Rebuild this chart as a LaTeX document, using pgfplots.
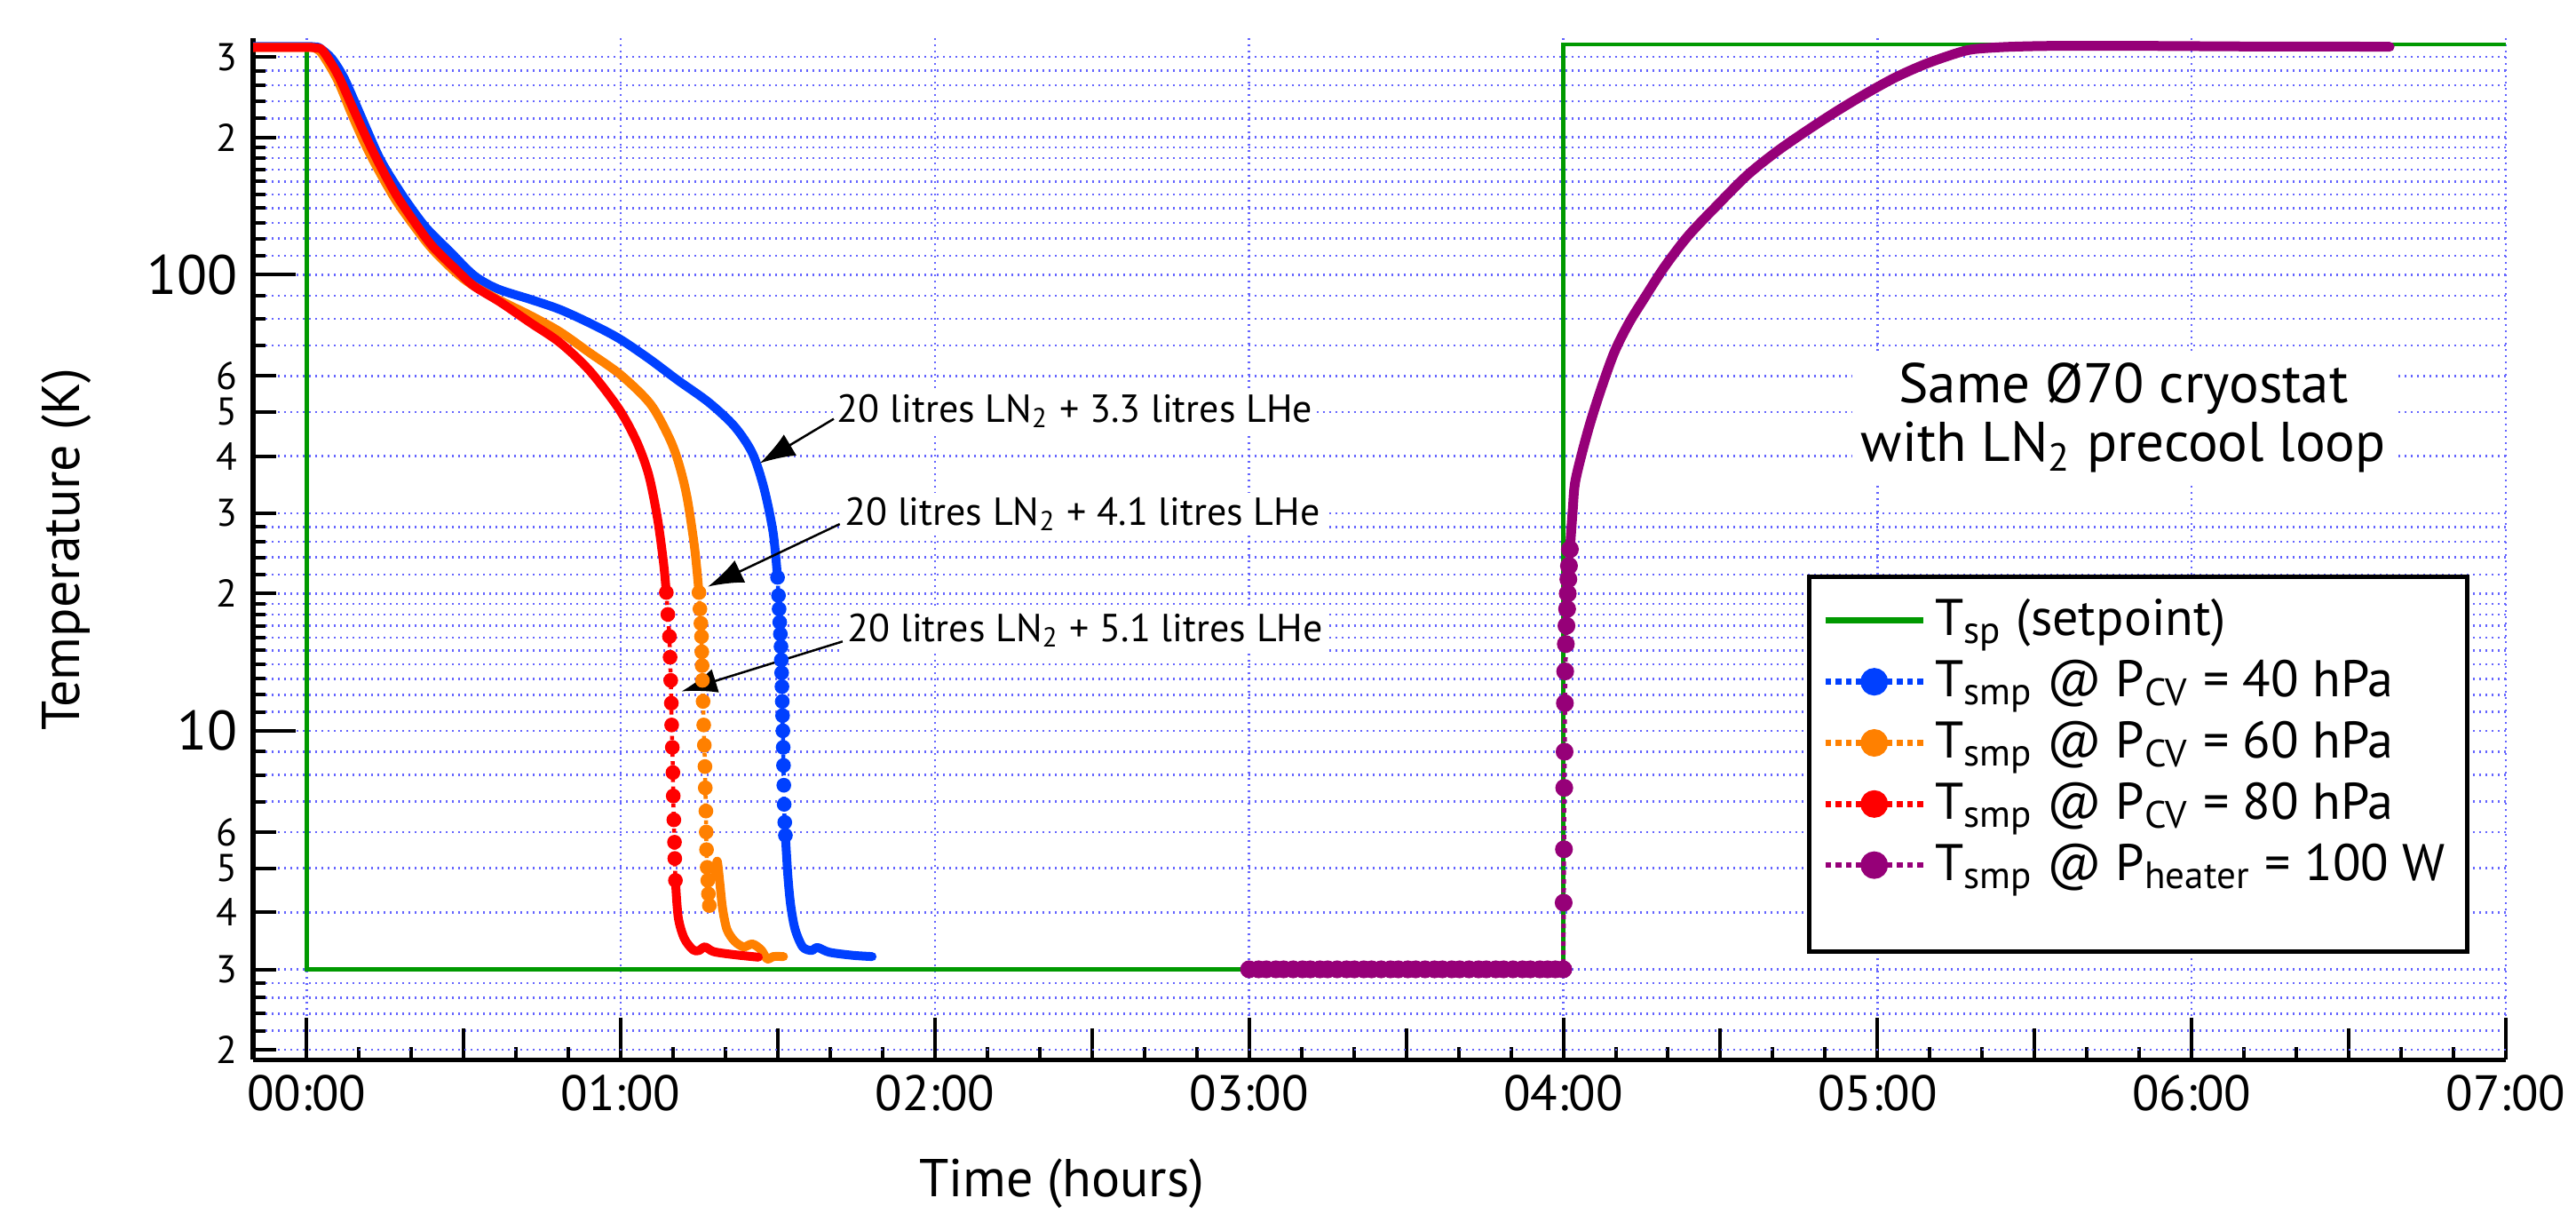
\documentclass[border=0pt]{standalone}
\usepackage{pgfplots}
\pgfplotsset{compat=1.18}
\usepackage{fontspec}
\setmainfont{PT Sans}
\usetikzlibrary{arrows.meta}
\definecolor{cblue}{RGB}{0,64,255}
\definecolor{corange}{RGB}{255,128,0}
\definecolor{cred}{RGB}{255,0,0}
\definecolor{cpurple}{RGB}{150,0,120}
\definecolor{cgreen}{RGB}{0,153,0}
\definecolor{cgrid}{RGB}{100,100,255}
\newcommand\sub[1]{\textsubscript{\fontsize{8.6}{9}\selectfont #1}}
\pgfplotsset{
  leggreen/.style={legend image code/.code={\draw[cgreen, line width=1.4pt] (0pt,0pt) -- (22pt,0pt);}},
  legblue/.style={legend image code/.code={\draw[cblue, densely dotted, line width=1.3pt] (0pt,0pt) -- (22pt,0pt); \fill[cblue] (11pt,0pt) circle (2.6pt);}},
  legorange/.style={legend image code/.code={\draw[corange, densely dotted, line width=1.3pt] (0pt,0pt) -- (22pt,0pt); \fill[corange] (11pt,0pt) circle (2.6pt);}},
  legred/.style={legend image code/.code={\draw[cred, densely dotted, line width=1.3pt] (0pt,0pt) -- (22pt,0pt); \fill[cred] (11pt,0pt) circle (2.6pt);}},
  legpurple/.style={legend image code/.code={\draw[cpurple, densely dotted, line width=1.3pt] (0pt,0pt) -- (22pt,0pt); \fill[cpurple] (11pt,0pt) circle (2.6pt);}},
  solidcurve/.style={line width=2pt, line join=round, line cap=round, smooth, tension=0.5},
  dropcurve/.style={densely dotted, line width=0.9pt, mark=*, mark size=1.2pt, mark options={solid}},
}
\begin{document}
\begin{tikzpicture}
\begin{axis}[
  scale only axis,
  width=507.2pt, height=230pt,
  ymode=log,
  xmin=-0.17, xmax=7, ymin=1.9, ymax=330,
  axis x line*=bottom, axis y line*=left,
  axis line style={line width=1.1pt, -},
  tick align=inside,
  tick style={black, line width=0.8pt},
  major tick length=9.5pt,
  minor tick length=2.8pt,
  xtick={0,1,2,3,4,5,6,7},
  xticklabels={00:00,01:00,02:00,03:00,04:00,05:00,06:00,07:00},
  minor xtick={0.1667,0.3333,0.6667,0.8333,1.1667,1.3333,1.6667,1.8333,2.1667,2.3333,2.6667,2.8333,3.1667,3.3333,3.6667,3.8333,4.1667,4.3333,4.6667,4.8333,5.1667,5.3333,5.6667,5.8333,6.1667,6.3333,6.6667,6.8333},
  extra x ticks={0.5,1.5,2.5,3.5,4.5,5.5,6.5},
  extra x tick labels={},
  extra x tick style={grid=none, major tick length=7pt},
  ytick={10,100},
  yticklabels={10,100},
  extra y ticks={2,3,4,5,6,20,30,40,50,60,200,300},
  extra y tick labels={2,3,4,5,6,2,3,4,5,6,2,3},
  extra y tick style={ymajorgrids=true, major tick length=5.2pt, yticklabel style={font=\fontsize{8.7}{9}\selectfont}},
  minor ytick={2.2,2.4,2.6,2.8,7,8,9,11,12,13,14,15,16,17,18,19,22,24,26,28,70,80,90,110,120,130,140,150,160,170,180,190,220,240,260,280},
  xmajorgrids, ymajorgrids, yminorgrids,
  grid style={densely dotted, cgrid, line width=0.5pt},
  xticklabel style={font=\fontsize{11.2}{12}\selectfont},
  yticklabel style={font=\fontsize{12.5}{13}\selectfont},
  xlabel={Time (hours)},
  ylabel={Temperature (K)},
  label style={font=\fontsize{12}{14}\selectfont},
  xlabel style={at={([yshift=-27.8pt]axis description cs:0.359,0)}, anchor=center},
  ylabel style={at={([xshift=-42pt]axis description cs:0,0.5)}, anchor=center},
  legend style={at={(0.984,0.475)}, anchor=north east, draw=black, line width=1pt, fill=white,
    font=\fontsize{11.6}{13}\selectfont, inner xsep=3pt, inner ysep=3pt, row sep=0pt, cells={anchor=west}},
  legend cell align=left,
]
% setpoint
\addplot[cgreen, line width=0.9pt, forget plot] coordinates {
(0,320) (0,3) (4,3) (4,320) (7,320)};

% 40 hPa (blue)
\addplot[cblue, solidcurve, forget plot] table {
x y
-0.17 316.5
0.000 316.5
0.030 315.5
0.042 314
0.080 298
0.118 271
0.156 237
0.193 207
0.231 181
0.269 163
0.325 142.5
0.382 126.4
0.457 112.2
0.533 99.6
0.608 93.1
0.712 88.3
0.806 83.9
0.900 78.4
0.994 72.5
1.089 65.5
1.183 58.6
1.280 52.5
1.362 46.5
1.419 40.6
1.456 34.0
1.485 27.2
1.499 21.7
};
\addplot[cblue, dropcurve, forget plot] table {
x y
1.499 21.7
1.502 19.8
1.504 18.5
1.506 17.3
1.508 16.3
1.510 15.3
1.511 14.3
1.512 13.4
1.513 12.5
1.514 11.6
1.515 10.8
1.516 10.0
1.517 9.2
1.518 8.4
1.519 7.6
1.520 6.9
1.522 6.3
1.524 5.9
};
\addplot[cblue, solidcurve, forget plot] table {
x y
1.524 5.9
1.532 4.80
1.541 4.14
1.555 3.67
1.579 3.36
1.607 3.30
1.626 3.35
1.664 3.27
1.739 3.22
1.800 3.20
};

% 60 hPa (orange)
\addplot[corange, solidcurve, forget plot] table {
x y
-0.17 315
0.000 315
0.030 313
0.052 303
0.099 266.7
0.146 222.9
0.193 189.1
0.240 164.2
0.287 144.6
0.344 127.4
0.400 113.8
0.476 101
0.532 94.5
0.617 87.7
0.712 81.4
0.806 75.0
0.900 67.5
1.000 60.3
1.095 52.0
1.155 43.8
1.185 38.5
1.211 32.5
1.235 25.2
1.249 20.1
};
\addplot[corange, dropcurve, forget plot] table {
x y
1.249 20.1
1.252 18.5
1.255 17.2
1.257 16.1
1.258 14.9
1.259 13.9
1.260 12.9
1.262 11.6
1.264 10.3
1.266 9.3
1.268 8.35
1.269 7.5
1.271 6.67
1.272 6.0
1.273 5.49
1.275 5.02
1.277 4.7
1.279 4.39
1.282 4.14
};
\addplot[corange, solidcurve, forget plot] table {
x y
1.301 4.80
1.307 5.18
1.315 4.66
1.324 4.08
1.338 3.67
1.362 3.46
1.391 3.36
1.419 3.41
1.447 3.31
1.466 3.16
1.485 3.20
1.518 3.20
};

% 80 hPa (red)
\addplot[cred, solidcurve, forget plot] table {
x y
-0.17 315
0.000 315
0.030 314
0.052 309.6
0.099 274.8
0.146 233
0.193 197.8
0.240 170.4
0.287 149
0.344 130.3
0.400 115.6
0.476 102.6
0.532 94.5
0.617 87.0
0.712 78.5
0.806 71.0
0.900 61.7
0.994 50.8
1.051 43.0
1.089 36.4
1.117 29.2
1.136 23.4
1.145 20.1
};
\addplot[cred, dropcurve, forget plot] table {
x y
1.145 20.1
1.150 18.0
1.155 16.1
1.157 14.5
1.159 12.9
1.161 11.5
1.162 10.3
1.164 9.2
1.166 8.1
1.167 7.2
1.169 6.38
1.171 5.7
1.172 5.25
1.174 4.70
};
\addplot[cred, solidcurve, forget plot] table {
x y
1.174 4.70
1.183 3.90
1.202 3.51
1.230 3.31
1.249 3.30
1.268 3.36
1.296 3.28
1.362 3.23
1.438 3.19
};

% 100 W heater (purple)
\addplot[cpurple, densely dotted, line width=1pt, mark=*, mark size=1.5pt, mark options={solid}, forget plot] table {
x y
3.000 3
3.030 3
3.055 3
3.085 3
3.110 3
3.140 3
3.170 3
3.195 3
3.225 3
3.250 3
3.280 3
3.310 3
3.335 3
3.365 3
3.390 3
3.420 3
3.450 3
3.475 3
3.505 3
3.530 3
3.560 3
3.590 3
3.615 3
3.645 3
3.670 3
3.700 3
3.730 3
3.755 3
3.785 3
3.810 3
3.840 3
3.870 3
3.895 3
3.925 3
3.950 3
3.975 3
4.000 3
4.001 4.2
4.002 5.5
4.003 7.5
4.004 9.0
4.005 11.5
4.006 13.5
4.008 15.5
4.010 17.0
4.012 18.5
4.014 20.0
4.016 21.5
4.018 23.0
4.021 25.0
};
\addplot[cpurple, line width=2.2pt, line join=round, line cap=round, smooth, tension=0.5, forget plot] table {
x y
4.021 25.0
4.030 30.5
4.039 35.5
4.077 45.1
4.115 54.8
4.162 67.5
4.209 78.4
4.256 88.4
4.322 104
4.398 121.8
4.492 142.5
4.586 165.4
4.680 186.4
4.775 206.9
4.869 228
4.963 249.4
5.057 270.7
5.152 289.5
5.246 305
5.303 312
5.400 315.5
5.500 317
5.600 317.5
5.800 317.5
6.000 317
6.200 316.5
6.400 316.5
6.630 316
};

% annotations
\node[anchor=west, fill=white, inner sep=1pt, font=\fontsize{8.8}{10}\selectfont] at (axis cs:1.672,50.2) {20 litres LN\textsubscript{2} + 3.3 litres LHe};
\node[anchor=west, fill=white, inner sep=1pt, font=\fontsize{8.8}{10}\selectfont] at (axis cs:1.696,29.9) {20 litres LN\textsubscript{2} + 4.1 litres LHe};
\node[anchor=west, fill=white, inner sep=1pt, font=\fontsize{8.8}{10}\selectfont] at (axis cs:1.705,16.6) {20 litres LN\textsubscript{2} + 5.1 litres LHe};
\draw[-{Latex[length=8pt,width=5.5pt]}, line width=0.5pt] (axis cs:1.678,48.3) -- (axis cs:1.442,38.6);
\draw[-{Latex[length=8pt,width=5.5pt]}, line width=0.5pt] (axis cs:1.697,28.4) -- (axis cs:1.277,20.7);
\draw[-{Latex[length=8pt,width=5.5pt]}, line width=0.5pt] (axis cs:1.706,15.7) -- (axis cs:1.193,12.2);
\node[align=center, fill=white, inner sep=2pt, font=\fontsize{12.6}{13.2}\selectfont] at (axis cs:5.783,48.6) {Same Ø70 cryostat\\with LN\textsubscript{2} precool loop};

% legend
\addlegendimage{leggreen}
\addlegendentry{T\sub{sp} (setpoint)}
\addlegendimage{legblue}
\addlegendentry{T\sub{smp} @ P\sub{CV} = 40 hPa}
\addlegendimage{legorange}
\addlegendentry{T\sub{smp} @ P\sub{CV} = 60 hPa}
\addlegendimage{legred}
\addlegendentry{T\sub{smp} @ P\sub{CV} = 80 hPa}
\addlegendimage{legpurple}
\addlegendentry{T\sub{smp} @ P\sub{heater} = 100 W}
\addlegendimage{empty legend}
\addlegendentry[font=\fontsize{4}{4}\selectfont]{\rule{0pt}{4pt}}
\end{axis}
\pgfresetboundingbox
\path[use as bounding box] (-57pt,-36.4pt) rectangle (523pt,238.6pt);
\end{tikzpicture}
\end{document}
